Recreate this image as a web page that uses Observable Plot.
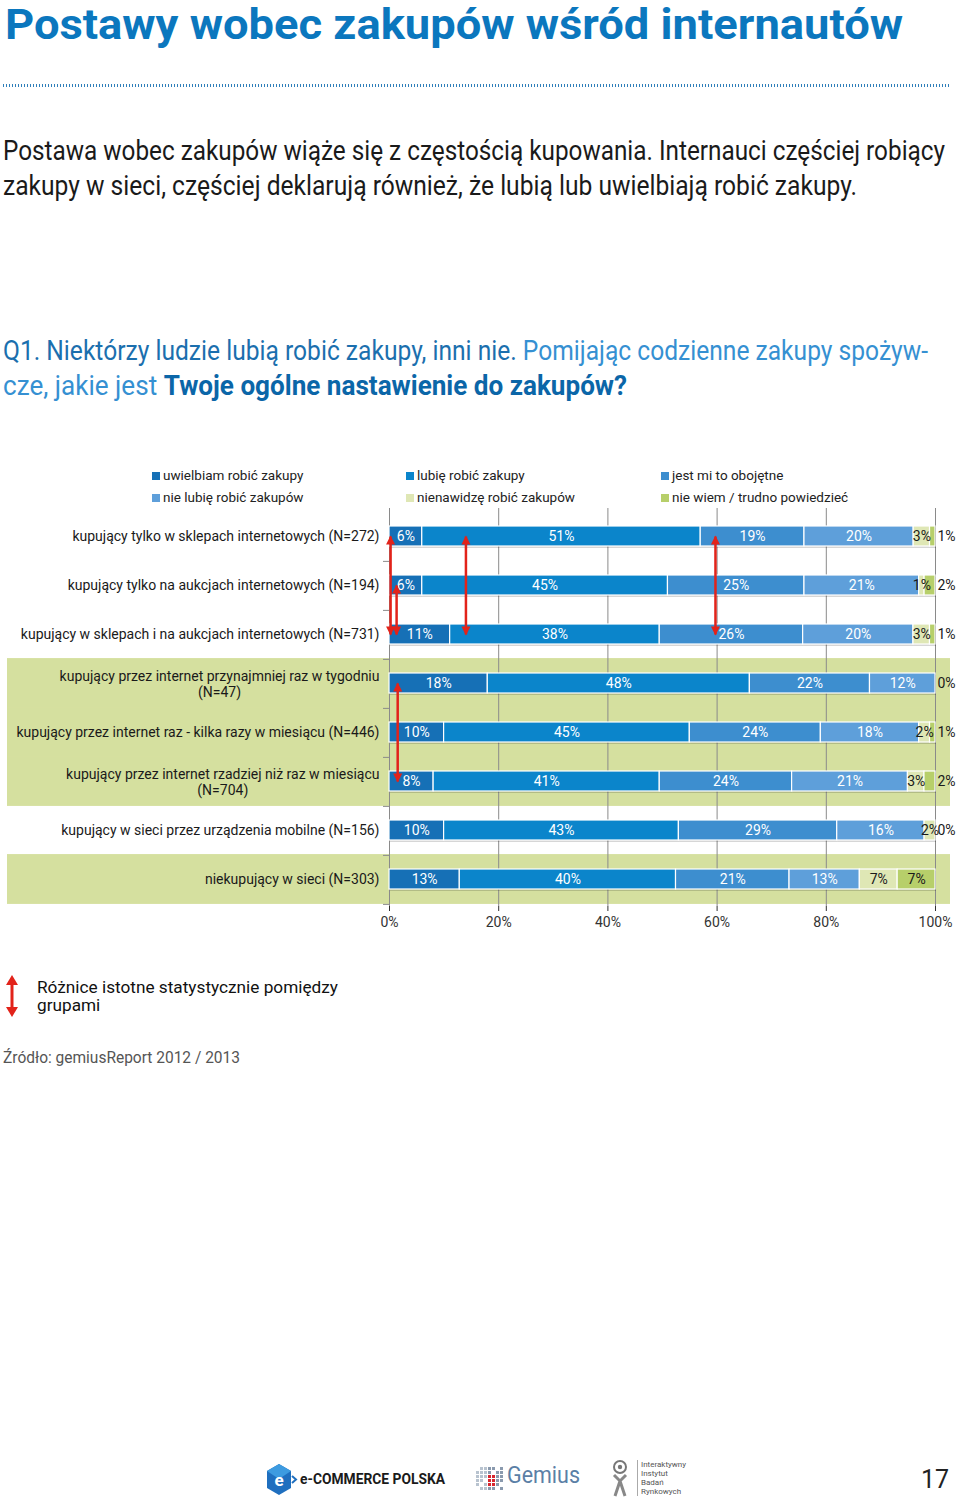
<!DOCTYPE html>
<html lang="pl">
<head>
<meta charset="utf-8">
<title>Postawy wobec zakupów wśród internautów</title>
<script src="https://cdn.jsdelivr.net/npm/d3@7"></script>
<script src="https://cdn.jsdelivr.net/npm/@observablehq/plot@0.6"></script>
<style>
html,body{margin:0;padding:0;background:#fff}
body{position:relative;width:960px;height:1499px;overflow:hidden;font-family:Roboto,"Open Sans",Arial,sans-serif;color:#1a1a1a}
.a{position:absolute;white-space:nowrap}
.fit{display:inline-block;transform-origin:0 50%;white-space:nowrap}
#title{left:5px;top:0px;font-size:43px;line-height:48px;font-weight:700;color:#0b77be}
#dots{left:3px;top:84px;width:946px;height:3px;background:repeating-linear-gradient(90deg,#2f7fba 0 1px,transparent 1px 3px)}
#intro{left:3px;top:133px;font-size:28px;line-height:35px;color:#1a1a1a}
#question{left:3px;top:333px;font-size:28px;line-height:35px;color:#3590d2}
#question .q1{color:#1b6fae}
#question b{color:#0b66a8;font-weight:700}
.leg{font-size:13.5px;line-height:22px;color:#222}
.leg i{display:inline-block;width:8px;height:8px;margin-right:3px}
#chart{left:0;top:500px}
#note{left:37px;top:978px;font-size:17px;line-height:18px;color:#111}
#source{left:3px;top:1048px;font-size:16px;line-height:20px;color:#555}
#page{left:921px;top:1465px;font-size:25px;line-height:30px;color:#222}
.iibr{left:637px;top:1460px;font-size:8px;line-height:9px;color:#555;border-left:1px solid #aaa;padding-left:3px}
</style>
</head>
<body>
<div class="a" id="title"><span class="fit" id="titleText">Postawy wobec zakupów wśród internautów</span></div>
<div class="a" id="dots"></div>
<div class="a" id="intro"><span class="fit" id="intro1">Postawa wobec zakupów wiąże się z częstością kupowania. Internauci częściej robiący</span><br><span class="fit" id="intro2">zakupy w sieci, częściej deklarują również, że lubią lub uwielbiają robić zakupy.</span></div>
<div class="a" id="question"><span class="fit" id="q1"><span class="q1">Q1. Niektórzy ludzie lubią robić zakupy, inni nie.</span> Pomijając codzienne zakupy spożyw-</span><br><span class="fit" id="q2">cze, jakie jest <b>Twoje ogólne nastawienie do zakupów?</b></span></div>
<div id="legend"></div>
<div class="a" id="chart"></div>
<div class="a" style="left:4px;top:975px"><svg width="16" height="42" viewBox="0 0 16 42"><line x1="8" y1="8" x2="8" y2="34" stroke="#e2231a" stroke-width="3"/><polygon points="8,0 14,10 2,10" fill="#e2231a"/><polygon points="8,42 14,32 2,32" fill="#e2231a"/></svg></div>
<div class="a" id="note"><span class="fit" id="note1">Różnice istotne statystycznie pomiędzy</span><br><span class="fit" id="note2">grupami</span></div>
<div class="a" id="source"><span class="fit" id="sourceText">Źródło: gemiusReport 2012 / 2013</span></div>

<div class="a" style="left:266px;top:1463px"><svg width="32" height="34" viewBox="0 0 32 34"><polygon points="13,1 25,8 25,25 13,32 1,25 1,8" fill="#1f6fbf"/><polygon points="13,1 25,8 13,16 1,8" fill="#3d9be0"/><text x="13" y="23" text-anchor="middle" font-size="17" font-weight="700" fill="#fff" font-family="Roboto">e</text><path d="M26 13 l4 3.5 -4 3.5" stroke="#1f6fbf" stroke-width="2" fill="none"/></svg></div>
<div class="a" style="left:300px;top:1469px;font-size:15px;line-height:20px;font-weight:700;color:#1a1a1a"><span class="fit" id="ecom">e-COMMERCE POLSKA</span></div>
<div class="a" style="left:476px;top:1467px"><svg width="30" height="24" viewBox="0 0 30 24" id="gemgrid"></svg></div>
<div class="a" style="left:507px;top:1462px;font-size:23px;line-height:28px;color:#5b7fa6"><span class="fit" id="gem">Gemius</span></div>
<div class="a" style="left:608px;top:1459px"><svg width="26" height="38" viewBox="0 0 26 38"><circle cx="12" cy="8" r="6" fill="none" stroke="#777" stroke-width="2"/><circle cx="12" cy="8" r="2.2" fill="#777"/><path d="M6 16 L12 22 L18 16 M12 22 L7 37 M12 22 L17 37" stroke="#888" stroke-width="3" fill="none"/></svg></div>
<div class="a iibr">Interaktywny<br>Instytut<br>Badań<br>Rynkowych</div>
<div class="a" id="page">17</div>

<script>
// ---------- data ----------
const series = [
  "uwielbiam robić zakupy",
  "lubię robić zakupy",
  "jest mi to obojętne",
  "nie lubię robić zakupów",
  "nienawidzę robić zakupów",
  "nie wiem / trudno powiedzieć"
];
const groups = [
  "kupujący tylko w sklepach internetowych (N=272)",
  "kupujący tylko na aukcjach internetowych (N=194)",
  "kupujący w sklepach i na aukcjach internetowych (N=731)",
  "kupujący przez internet przynajmniej raz w tygodniu\n(N=47)",
  "kupujący przez internet raz - kilka razy w miesiącu (N=446)",
  "kupujący przez internet rzadziej niż raz w miesiącu\n(N=704)",
  "kupujący w sieci przez urządzenia mobilne (N=156)",
  "niekupujący w sieci (N=303)"
];
const uwielbiam  = [6, 6, 11, 18, 10, 8, 10, 13];
const lubie      = [51, 45, 38, 48, 45, 41, 43, 40];
const obojetne   = [19, 25, 26, 22, 24, 24, 29, 21];
const nieLubie   = [20, 21, 20, 12, 18, 21, 16, 13];
const nienawidze = [3, 1, 3, 0, 2, 3, 2, 7];
const nieWiem    = [1, 2, 1, 0, 1, 2, 0, 7];
const highlightedGroups = [groups[3], groups[4], groups[5], groups[7]];
const xTicks = [0, 0.2, 0.4, 0.6, 0.8, 1];
// statistically significant differences (x as share of bar, between two groups)
const arrows = [
  {x: 0.002, from: groups[0], to: groups[2]},
  {x: 0.013, from: groups[1], to: groups[2]},
  {x: 0.14,  from: groups[0], to: groups[2]},
  {x: 0.597, from: groups[0], to: groups[2]},
  {x: 0.015, from: groups[3], to: groups[5]}
];
const colors = ["#1670b6", "#0b85cb", "#3d8ecf", "#5e9fda", "#dfe7b5", "#b7cf6a"];

// ---------- tidy table ----------
const valuesBySeries = [uwielbiam, lubie, obojetne, nieLubie, nienawidze, nieWiem];
const tidy = groups.flatMap((g, i) => series.map((s, j) => ({group: g, series: s, idx: j, value: valuesBySeries[j][i]})));
const outside = tidy.filter(d => d.idx === 5 && d.value < 5);

// ---------- legend ----------
const legend = document.getElementById("legend");
const legX = [152, 406, 661], legY = [464, 486];
series.forEach((s, i) => {
  const el = document.createElement("div");
  el.className = "a leg";
  el.style.left = legX[i % 3] + "px";
  el.style.top = legY[Math.floor(i / 3)] + "px";
  el.innerHTML = `<i style="background:${colors[i]}"></i>${s}`;
  legend.appendChild(el);
});

// ---------- gemius grid ----------
const gg = d3.select("#gemgrid");
for (let r = 0; r < 6; r++) for (let c = 0; c < 7; c++) {
  const isRed = (c >= 3 && c <= 4 && r >= 2 && r <= 4);
  if ((r + c) % 5 === 0 && !isRed) continue;
  gg.append("rect").attr("x", c * 4).attr("y", r * 4).attr("width", 3).attr("height", 3)
    .attr("fill", isRed ? "#d6262e" : (c < 3 ? "#b8c3cf" : "#8a9aae"));
}

// ---------- chart ----------
const W = 960, mL = 389, mR = 25, mT = 8, mB = 30, frameH = 398;
const step = frameH / groups.length;
const bw = step * 0.4;
const half = (step - bw) / 2;
const labelFont = 14;
const ctx = document.createElement("canvas").getContext("2d");
ctx.font = labelFont + "px Roboto";
const textW = s => Math.max(...s.split("\n").map(l => ctx.measureText(l).width));
const red = "#e2231a";
const tipUp = {draw(c) { c.moveTo(0, -1); c.lineTo(4.5, 8); c.lineTo(-4.5, 8); c.closePath(); }};
const tipDown = {draw(c) { c.moveTo(0, 1); c.lineTo(4.5, -8); c.lineTo(-4.5, -8); c.closePath(); }};
const stackOpts = {x: "value", y: "group", z: "series", order: series, offset: "normalize"};

const singles = groups.filter(g => !g.includes("\n"));
const doubles = groups.filter(g => g.includes("\n"));

const plot = Plot.plot({
  width: W, height: mT + frameH + mB,
  marginLeft: mL, marginRight: mR, marginTop: mT, marginBottom: mB,
  style: {fontFamily: "Roboto, sans-serif", fontSize: "14px", color: "#333", background: "transparent", overflow: "visible"},
  x: {domain: [0, 1], ticks: xTicks, tickFormat: d3.format(".0%"), tickSize: 5, tickPadding: 6, label: null},
  y: {domain: groups, paddingInner: 0.6, paddingOuter: 0.3, axis: null},
  color: {domain: series, range: colors},
  marks: [
    Plot.cell(highlightedGroups, {y: d => d, fill: "#d5e09f", insetLeft: -(mL - 7), insetRight: -15, insetTop: -half, insetBottom: -half}),
    Plot.ruleX(xTicks, {stroke: "#8a8a8a", strokeWidth: 1}),
    Plot.tickY(groups, {y: d => d, dy: step / 2, insetLeft: -6, insetRight: W - mL - mR, stroke: "#8a8a8a"}),
    Plot.barX(tidy, Plot.stackX({...stackOpts, fill: "#000", fillOpacity: 0.16, dx: 1, dy: 2})),
    Plot.barX(tidy, Plot.stackX({...stackOpts, fill: "series", stroke: "#fff", strokeWidth: 1.2})),
    Plot.text(tidy, Plot.stackX({...stackOpts, text: d => (d.idx < 4 && d.value > 0) ? d.value + "%" : "", fill: "#fff", fontSize: 14})),
    Plot.text(tidy, Plot.stackX({...stackOpts, text: d => ((d.idx === 4 && d.value > 0) || (d.idx === 5 && d.value >= 5)) ? d.value + "%" : "", fill: "#1a1a1a", fontSize: 14})),
    Plot.text(outside, {y: "group", text: d => d.value + "%", frameAnchor: "right", textAnchor: "start", dx: 2, fill: "#1a1a1a", fontSize: 14}),
    Plot.link(arrows, {x1: "x", x2: "x", y1: "from", y2: "to", stroke: red, strokeWidth: 2.5}),
    Plot.dot(arrows, {x: "x", y: "from", symbol: tipUp, fill: red, r: 4}),
    Plot.dot(arrows, {x: "x", y: "to", symbol: tipDown, fill: red, r: 4}),
    Plot.text(singles, {y: d => d, text: d => d, frameAnchor: "left", textAnchor: "end", dx: -10, fontSize: labelFont, fill: "#1a1a1a"}),
    ...doubles.map(g => Plot.text([g], {y: d => d, text: d => d, frameAnchor: "left", textAnchor: "middle", lineAnchor: "middle", lineHeight: 1.15, dx: -10 - textW(g) / 2, fontSize: labelFont, fill: "#1a1a1a"}))
  ]
});
document.getElementById("chart").appendChild(plot);

// ---------- fit condensed text widths ----------
function fitTo(id, w) {
  const el = document.getElementById(id);
  const s = w / el.getBoundingClientRect().width;
  el.style.transform = `scaleX(${s})`;
  return s;
}
fitTo("titleText", 898);
fitTo("intro1", 942);
fitTo("intro2", 854);
fitTo("q1", 925);
fitTo("q2", 624);
const ns = fitTo("note1", 301);
document.getElementById("note2").style.transform = `scaleX(${ns})`;
fitTo("sourceText", 237);
fitTo("ecom", 145);
fitTo("gem", 73);
</script>
</body>
</html>
